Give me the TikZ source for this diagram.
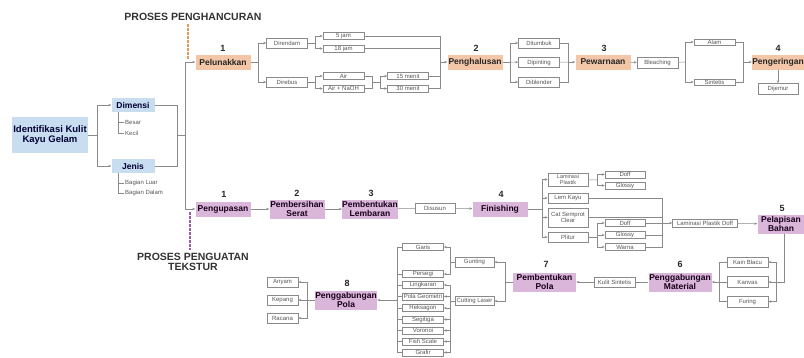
\documentclass[tikz,border=0pt]{standalone}
\usepackage{fontspec}
\setmainfont{Liberation Sans}
\usepackage{xcolor}
\usetikzlibrary{arrows.meta}

\definecolor{orfill}{HTML}{F4C6A8}
\definecolor{pufill}{HTML}{D9B6DA}
\definecolor{blfill}{HTML}{C9DDF1}
\definecolor{ordash}{HTML}{E49A5C}
\definecolor{pudash}{HTML}{9A5BA8}
\definecolor{linegray}{HTML}{8A8A8A}
\definecolor{leafgray}{HTML}{555555}

\begin{document}
\begin{tikzpicture}[x=1pt, y=-1pt,
    conn/.style={draw=linegray, line width=0.5pt},
    arr/.style={conn, -{Stealth[length=3pt,width=2.4pt]}},
    bigbox/.style={rectangle, inner sep=0pt, align=center, minimum width=55pt, minimum height=15pt,
        font=\bfseries\fontsize{8.5}{9}\selectfont},
    orbox/.style={bigbox, fill=orfill, text=black!85},
    pubox/.style={bigbox, fill=pufill, text=black!80!violet},
    blbox/.style={bigbox, fill=blfill, text=black!80!blue, minimum width=43pt, minimum height=14pt},
    sbox/.style={rectangle, draw=linegray, line width=0.5pt, fill=white, inner sep=0pt, align=center,
        minimum width=41pt, minimum height=10pt, text=leafgray, font=\fontsize{6}{6.2}\selectfont},
    thin/.style={sbox, minimum height=7pt},
    leaf/.style={anchor=west, inner sep=1pt, text=leafgray, font=\fontsize{6}{6}\selectfont},
    num/.style={font=\bfseries\fontsize{9}{9}\selectfont, text=black!85},
    heading/.style={font=\bfseries\fontsize{10.5}{9.5}\selectfont, text=black!80, align=center},
    dashor/.style={draw=ordash, line width=2pt, dash pattern=on 2.5pt off 1.5pt},
    dashpu/.style={draw=pudash, line width=2pt, dash pattern=on 2.5pt off 1.5pt}]

    \useasboundingbox (0,0) rectangle (804,357);

    % Define the headings
    \node[heading] (t1) at (193,17) {PROSES PENGHANCURAN};
    \node[heading] (t2) at (193,262) {PROSES PENGUATAN\\TEKSTUR};

    % Define the identification part
    \node[blbox, minimum width=76pt, minimum height=36pt, font=\bfseries\fontsize{9.5}{10.5}\selectfont] (ident) at (50,135) {Identifikasi Kulit\\Kayu Gelam};
    \node[blbox] (dim) at (133,105) {Dimensi};
    \node[blbox] (jen) at (133,166) {Jenis};
    \node[leaf] (besar) at (124,122) {Besar};
    \node[leaf] (kecil) at (124,133) {Kecil};
    \node[leaf] (luar) at (124,183) {Bagian Luar};
    \node[leaf] (dalam) at (124,193) {Bagian Dalam};

    \coordinate (split) at (97,135);
    \coordinate (merge) at (177,135);
    \coordinate (ttop) at (185,62);
    \coordinate (tmid) at (185,135);
    \coordinate (tbot) at (185,209);
    \coordinate (otop) at (188,60);
    \coordinate (ptop) at (190,212);

    % Define the upper states
    \node[orbox] (pel) at (223,62) {Pelunakkan};
    \node[num] (n1) at (223,48) {1};
    \node[sbox] (rend) at (287,43) {Direndam};
    \node[sbox] (rebus) at (287,82) {Direbus};
    \node[thin] (jam5) at (343.5,36) {5 jam};
    \node[thin] (jam18) at (343.5,48.5) {18 jam};
    \node[thin] (air) at (343.5,76) {Air};
    \node[thin] (naoh) at (343.5,88.5) {Air + NaOH};
    \node[thin] (m15) at (408,76) {15 menit};
    \node[thin] (m30) at (408,88.5) {30 menit};
    \node[orbox] (hal) at (475,62) {Penghalusan};
    \node[num] (n2) at (476,48) {2};
    \node[sbox] (tumbuk) at (539,43) {Ditumbuk};
    \node[sbox] (pinting) at (539,62.5) {Dipinting};
    \node[sbox] (blender) at (539,82) {Diblender};
    \node[orbox] (warna) at (603,62) {Pewarnaan};
    \node[num] (n3) at (604,48) {3};
    \node[sbox, minimum height=11pt] (bleach) at (657.5,62.5) {Bleaching};
    \node[thin, minimum height=6.5pt] (alam) at (714.5,42) {Alam};
    \node[thin, minimum height=6.5pt] (sint) at (714.5,82) {Sintetis};
    \node[orbox, minimum width=52pt] (kering) at (778,62) {Pengeringan};
    \node[num] (n4) at (778,48) {4};
    \node[sbox, minimum width=40pt, minimum height=11pt] (jemur) at (778,89) {Dijemur};

    \coordinate (j1) at (258,62);
    \coordinate (j2) at (315,43);
    \coordinate (j3) at (315,82);
    \coordinate (j4) at (372,82);
    \coordinate (j5) at (380,82);
    \coordinate (j6) at (440,62);
    \coordinate (j7) at (510,62);
    \coordinate (j8) at (568,62);
    \coordinate (j9) at (685,62);
    \coordinate (j10) at (743,62);

    % Define the lower states
    \node[pubox] (pgp) at (223,209) {Pengupasan};
    \node[num] (m1) at (224,194) {1};
    \node[pubox, minimum height=19pt] (serat) at (297,209) {Pembersihan\\Serat};
    \node[num] (m2) at (297,193) {2};
    \node[pubox, minimum height=19pt] (lembar) at (370,209) {Pembentukan\\Lembaran};
    \node[num] (m3) at (371,193) {3};
    \node[sbox, minimum width=40pt] (susun) at (435,208) {Disusun};
    \node[pubox] (fin) at (500,209) {Finishing};
    \node[num] (m4) at (501,194) {4};
    \node[sbox, minimum width=40pt, minimum height=13pt, font=\fontsize{5.5}{5.5}\selectfont] (lamin) at (568,179.5) {Laminasi\\Plastik};
    \node[sbox, minimum width=40pt] (lem) at (568,198) {Lem Kayu};
    \node[sbox, minimum width=40pt, minimum height=19pt] (cat) at (568,217.5) {Cat Semprot\\Clear};
    \node[sbox, minimum width=40pt] (plitur) at (568,237) {Plitur};
    \node[thin, minimum width=40pt] (doffa) at (625,174.5) {Doff};
    \node[thin, minimum width=40pt] (glossya) at (625,185.5) {Glossy};
    \node[thin, minimum width=40pt] (doffb) at (625,223) {Doff};
    \node[thin, minimum width=40pt] (glossyb) at (625,235) {Glossy};
    \node[thin, minimum width=40pt] (warnab) at (625,247) {Warna};
    \node[thin, minimum width=65pt, minimum height=8pt] (lpd) at (705,223) {Laminasi Plastik Doff};
    \node[pubox, minimum width=47pt, minimum height=19pt] (lapis) at (781,224) {Pelapisan\\Bahan};
    \node[num] (m5) at (782,208) {5};
    \node[sbox] (blacu) at (747.5,262) {Kain Blacu};
    \node[sbox, minimum height=11pt] (kanvas) at (747.5,282) {Kanvas};
    \node[sbox, minimum height=11pt] (furing) at (747.5,301.5) {Furing};
    \node[pubox, minimum width=63pt, minimum height=19pt] (gmat) at (680,282) {Penggabungan\\Material};
    \node[num] (m6) at (680,264) {6};
    \node[sbox] (kulit) at (614.5,282) {Kulit Sintetis};
    \node[pubox, minimum width=63pt, minimum height=19pt] (bpola) at (544.5,282) {Pembentukan\\Pola};
    \node[num] (m7) at (546,264) {7};
    \node[sbox, minimum width=39pt] (gunting) at (474.5,262) {Gunting};
    \node[sbox, minimum width=39pt, minimum height=9pt] (laser) at (474.5,301) {Cutting Laser};
    \node[thin] (garis) at (423,247) {Garis};
    \node[thin] (persegi) at (423,274) {Persegi};
    \node[thin] (lingkar) at (423,285) {Lingkaran};
    \node[thin] (geo) at (423,296.5) {Pola Geometri};
    \node[thin] (heksa) at (423,308) {Heksagon};
    \node[thin] (segi) at (423,319.5) {Segitiga};
    \node[thin] (voro) at (423,330.5) {Voronoi};
    \node[thin] (fish) at (423,341.5) {Fish Scale};
    \node[thin] (grafir) at (423,352.5) {Grafir};
    \node[pubox, minimum width=62pt, minimum height=19pt] (ppola) at (346,300) {Penggabungan\\Pola};
    \node[num] (m8) at (347,283) {8};
    \node[sbox, minimum width=31pt] (anyam) at (282.5,282) {Anyam};
    \node[sbox, minimum width=31pt] (kepang) at (282.5,300) {Kepang};
    \node[sbox, minimum width=31pt] (racana) at (282.5,318) {Racana};

    \coordinate (k1) at (542,209);
    \coordinate (k2) at (597,180);
    \coordinate (k3) at (597,237);
    \coordinate (k4) at (662,223);
    \coordinate (k5) at (784,282);
    \coordinate (k6) at (776,282);
    \coordinate (k7) at (719,282);
    \coordinate (k8) at (505,282);
    \coordinate (k9) at (450,262);
    \coordinate (k10) at (450,301);
    \coordinate (k11) at (397,300);
    \coordinate (k12) at (307,300);

    % Define the transitions
    \draw[dashor] (otop |- t1.south) -- (otop);
    \draw[dashpu] (ptop) -- (ptop |- t2.north);

    \draw[conn] (ident) -- (split);
    \draw[arr] (split) |- (dim);
    \draw[arr] (split) |- (jen);
    \draw[conn] (dim) -| (merge);
    \draw[conn] (jen) -| (merge);
    \draw[conn] (merge) -- (tmid);
    \draw[conn] (ttop) -- (tbot);
    \draw[arr] (ttop) -- (pel);
    \draw[arr] (tbot) -- (pgp);
    \draw[conn] ([xshift=-15pt]dim.south) |- (kecil.west);
    \draw[conn] ([xshift=-15pt]dim.south |- besar.west) -- (besar.west);
    \draw[conn] ([xshift=-15pt]jen.south) |- (dalam.west);
    \draw[conn] ([xshift=-15pt]jen.south |- luar.west) -- (luar.west);

    \draw[conn] (pel) -- (j1);
    \draw[arr] (j1) |- (rend);
    \draw[arr] (j1) |- (rebus);
    \draw[conn] (rend) -- (j2);
    \draw[arr] (j2) |- (jam5);
    \draw[arr] (j2) |- (jam18);
    \draw[conn] (rebus) -- (j3);
    \draw[arr] (j3) |- (air);
    \draw[arr] (j3) |- (naoh);
    \draw[conn] (air) -| (j4);
    \draw[conn] (naoh) -| (j4);
    \draw[conn] (j4) -- (j5);
    \draw[arr] (j5) |- (m15);
    \draw[arr] (j5) |- (m30);
    \draw[conn] (jam5) -| (j6);
    \draw[conn] (jam18) -| (j6);
    \draw[conn] (m15) -| (j6);
    \draw[conn] (m30) -| (j6);
    \draw[arr] (j6) -- (hal);
    \draw[conn] (hal) -- (j7);
    \draw[arr] (j7) |- (tumbuk);
    \draw[arr] (j7) -- (pinting);
    \draw[arr] (j7) |- (blender);
    \draw[conn] (tumbuk) -| (j8);
    \draw[conn] (pinting) -- (j8);
    \draw[conn] (blender) -| (j8);
    \draw[arr] (j8) -- (warna);
    \draw[arr] (warna) -- (bleach);
    \draw[conn] (bleach) -- (j9);
    \draw[arr] (j9) |- (alam);
    \draw[arr] (j9) |- (sint);
    \draw[conn] (alam) -| (j10);
    \draw[conn] (sint) -| (j10);
    \draw[arr] (j10) -- (kering);
    \draw[arr] (kering) -- (jemur);

    \draw[arr] (pgp) -- (serat);
    \draw[arr] (serat) -- (lembar);
    \draw[conn] (lembar) -- (susun);
    \draw[arr] (susun) -- (fin);
    \draw[conn] (fin) -- (k1);
    \draw[arr] (k1) |- (lamin);
    \draw[arr] (k1) |- (lem);
    \draw[arr] (k1) |- (cat);
    \draw[arr] (k1) |- (plitur);
    \draw[conn] (lamin) -- (k2);
    \draw[arr] (k2) |- (doffa);
    \draw[arr] (k2) |- (glossya);
    \draw[conn] (plitur) -- (k3);
    \draw[arr] (k3) |- (doffb);
    \draw[arr] (k3) |- (glossyb);
    \draw[arr] (k3) |- (warnab);
    \draw[conn] (lem) -| (k4);
    \draw[conn] (cat) -| (k4);
    \draw[conn] (doffb) -- (k4);
    \draw[conn] (glossyb) -| (k4);
    \draw[conn] (warnab) -| (k4);
    \draw[arr] (k4) -- (lpd);
    \draw[arr] (lpd) -- (lapis);
    \draw[conn] (lapis.south -| k5) -- (k5) -- (k6);
    \draw[arr] (k6) |- (blacu);
    \draw[arr] (k6) -- (kanvas);
    \draw[arr] (k6) |- (furing);
    \draw[conn] (blacu) -| (k7);
    \draw[conn] (kanvas) -- (k7);
    \draw[conn] (furing) -| (k7);
    \draw[arr] (k7) -- (gmat);
    \draw[conn] (gmat) -- (kulit);
    \draw[arr] (kulit) -- (bpola);
    \draw[conn] (bpola) -- (k8);
    \draw[arr] (k8) |- (gunting);
    \draw[arr] (k8) |- (laser);
    \draw[conn] (gunting) -- (k9);
    \draw[arr] (k9) |- (garis);
    \draw[arr] (k9) |- (persegi);
    \draw[conn] (laser) -- (k10);
    \foreach \s in {lingkar, geo, heksa, segi, voro, fish, grafir}
        \draw[arr] (k10) |- (\s);
    \draw[conn] (k11 |- garis) -- (k11 |- grafir);
    \foreach \s in {garis, persegi, lingkar, geo, heksa, segi, voro, fish, grafir}
        \draw[conn] (k11 |- \s) -- (\s);
    \draw[arr] (k11) -- (ppola);
    \draw[conn] (ppola) -- (k12);
    \draw[arr] (k12) |- (anyam);
    \draw[arr] (k12) -- (kepang);
    \draw[arr] (k12) |- (racana);

\end{tikzpicture}
\end{document}
